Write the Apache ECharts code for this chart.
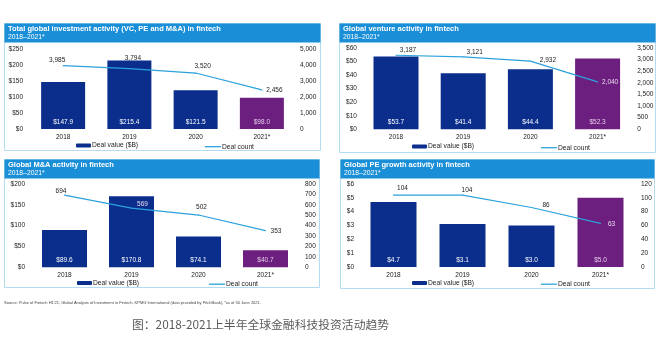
<!DOCTYPE html>
<html><head><meta charset="utf-8">
<script src="https://cdn.jsdelivr.net/npm/echarts@6/dist/echarts.min.js"></script>
<style>html,body{margin:0;padding:0;background:#fff}#c{width:662px;height:344px}</style>
</head><body><div id="c"></div>
<script>
// ---- data ----
const categories = ['2018', '2019', '2020', '2021*'];
const totalValue = [147.9, 215.4, 121.5, 98.0];
const totalCount = [3985, 3794, 3520, 2456];
const ventureValue = [53.7, 41.4, 44.4, 52.3];
const ventureCount = [3187, 3121, 2932, 2040];
const maValue = [89.6, 170.8, 74.1, 40.7];
const maCount = [694, 569, 502, 353];
const peValue = [4.7, 3.1, 3.0, 5.0];
const peCount = [104, 104, 86, 63];
const panelTitles = [
  'Total global investment activity (VC, PE and M&A) in fintech',
  'Global venture activity in fintech',
  'Global M&A activity in fintech',
  'Global PE growth activity in fintech'
];
const panelSubtitle = '2018\u20132021*';
const valueName = 'Deal value ($B)';
const countName = 'Deal count';
const sourceText = "Source: Pulse of Fintech H1'21, Global Analysis of Investment in Fintech, KPMG International (data provided by PitchBook), *as of 30 June 2021.";
const captionText = '图：2018-2021上半年全球金融科技投资活动趋势';
const leftAxes = [[250, 50], [60, 10], [200, 50], [6, 1]];     // [max, interval]
const rightAxes = [[5000, 1000], [3500, 500], [800, 100], [120, 20]];

// ---- style / layout ----
const BLUE = '#0b2e8c', PURPLE = '#6c1f7f', LINE = '#2ba2dc', HEAD = '#1a8fd8', BORDER = '#b3dcf0';
const FONT = '"Liberation Sans", Arial, sans-serif';
const panels = [
  {box: [4, 23, 316, 127], grid: {left: 30, top: 49.5, width: 265, height: 79.5}, bw: 44, legend: [76, 205, 142], lm: 7, rm: 5,
   offs: [[-6, -5.5], [3.5, -10.7], [7, -6.7], [12.5, 0]], light: []},
  {box: [339, 23, 316, 129], grid: {left: 362.4, top: 48, width: 268.8, height: 81.3}, bw: 45, legend: [412, 541, 143], lm: 5.5, rm: 6,
   offs: [[12, -4.6], [11.5, -5], [17.5, -1.2], [12.5, 0.4]], light: [3]},
  {box: [4, 159, 315, 128], grid: {left: 31, top: 184, width: 268, height: 83.3}, bw: 45, legend: [77, 209, 279.5], lm: 6, rm: 6,
   offs: [[-3.5, -4.3], [11, -4], [3, -8], [10.5, 0.5]], light: [1]},
  {box: [340, 159, 314, 129], grid: {left: 359, top: 184, width: 276, height: 83}, bw: 46, legend: [412, 541, 279.5], lm: 5, rm: 6,
   offs: [[9, -7], [4.5, -5], [14.5, -2.4], [11, 0.7]], light: [3]}
];
const values = [totalValue, ventureValue, maValue, peValue];
const counts = [totalCount, ventureCount, maCount, peCount];
const fmtN = v => v.toLocaleString('en-US');

const option = {
  backgroundColor: '#fff',
  animation: false,
  textStyle: {fontFamily: FONT},
  title: [], grid: [], xAxis: [], yAxis: [], series: [], legend: [], graphic: []
};

panels.forEach((p, i) => {
  const [bx, by, bw, bh] = p.box;
  option.graphic.push({type: 'rect', shape: {x: bx + 0.5, y: by + 0.5, width: bw, height: bh}, style: {fill: 'none', stroke: BORDER, lineWidth: 1}, z: -1});
  option.graphic.push({type: 'rect', shape: {x: bx + 0.5, y: by + 0.5, width: bw, height: 19}, style: {fill: HEAD}, z: -1});
  option.title.push({text: panelTitles[i], subtext: panelSubtitle, left: bx + 4, top: by + 1.5, padding: 0, itemGap: 0,
    textStyle: {fontSize: 7.5, fontWeight: 'bold', color: '#fff', lineHeight: 8.5, fontFamily: FONT},
    subtextStyle: {fontSize: 6.8, color: '#fff', lineHeight: 8, fontFamily: FONT}});
  option.grid.push(Object.assign({containLabel: false}, p.grid));
  option.xAxis.push({type: 'category', gridIndex: i, data: categories,
    axisLine: {show: false}, axisTick: {show: false}, splitLine: {show: false},
    axisLabel: {fontSize: 6.5, color: '#222', margin: 4.5, fontFamily: FONT}});
  option.yAxis.push({type: 'value', gridIndex: i, position: 'left', min: 0, max: leftAxes[i][0], interval: leftAxes[i][1],
    splitLine: {show: false}, axisLine: {show: false}, axisTick: {show: false},
    axisLabel: {fontSize: 6.5, color: '#222', margin: p.lm, formatter: v => '$' + v, fontFamily: FONT}});
  option.yAxis.push({type: 'value', gridIndex: i, position: 'right', min: 0, max: rightAxes[i][0], interval: rightAxes[i][1],
    splitLine: {show: false}, axisLine: {show: false}, axisTick: {show: false},
    axisLabel: {fontSize: 6.5, color: '#222', margin: p.rm, formatter: v => fmtN(v), fontFamily: FONT}});
  option.series.push({type: 'bar', name: valueName, xAxisIndex: i, yAxisIndex: 2 * i, barWidth: p.bw,
    itemStyle: {color: BLUE},
    label: {show: true, position: 'insideBottom', distance: 3.5, fontSize: 6.5, color: '#fff', fontFamily: FONT,
      formatter: q => '$' + q.value.toFixed(1)},
    data: values[i].map((v, k) => k === 3 ? {value: v, itemStyle: {color: PURPLE}, label: {color: '#e4cbe9'}} : v)});
  option.series.push({type: 'line', name: countName, xAxisIndex: i, yAxisIndex: 2 * i + 1,
    symbol: 'circle', symbolSize: 1, lineStyle: {color: LINE, width: 1.2}, itemStyle: {color: LINE}, z: 5,
    label: {show: true, position: 'inside', fontSize: 6.5, color: '#222', fontFamily: FONT, formatter: q => fmtN(q.value)},
    data: counts[i].map((v, k) => ({value: v, label: {offset: p.offs[k], color: p.light.includes(k) ? '#e8dcef' : '#222'}}))});
  option.legend.push({data: [valueName], left: p.legend[0], top: p.legend[2], padding: 0, itemWidth: 15, itemHeight: 4, itemGap: 0,
    textStyle: {fontSize: 6.7, color: '#222', padding: [0, 0, 0, -4], fontFamily: FONT}, selectedMode: false});
  option.legend.push({data: [{name: countName, icon: 'rect'}], left: p.legend[1], top: p.legend[2] + 1.2, padding: 0, itemWidth: 16, itemHeight: 1.3,
    textStyle: {fontSize: 6.7, color: '#222', padding: [0, 0, 0, -4], fontFamily: FONT}, selectedMode: false});
});

option.title.push({text: sourceText, left: 4, top: 301, padding: 0, textStyle: {fontSize: 4, fontWeight: 'normal', color: '#444', fontFamily: FONT}});
option.title.push({text: captionText, left: 132, top: 319, padding: 0,
  textStyle: {fontSize: 11.8, fontWeight: 'normal', color: '#5a5a5a', fontFamily: '"Noto Sans CJK SC", sans-serif'}});

const chart = echarts.init(document.getElementById('c'), null, {renderer: 'canvas'});
chart.setOption(option);
</script></body></html>
